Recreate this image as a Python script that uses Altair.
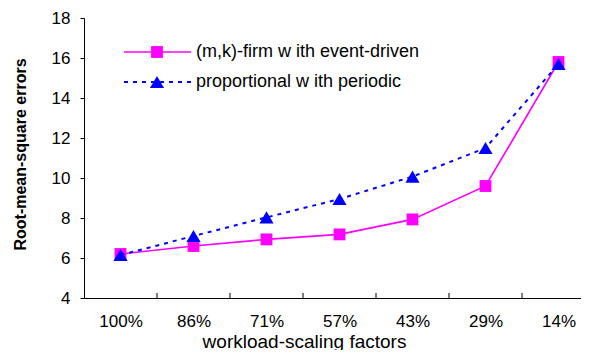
import altair as alt
import pandas as pd

categories = ["100%", "86%", "71%", "57%", "43%", "29%", "14%"]
firm_event = [6.2, 6.6, 6.93, 7.18, 7.93, 9.6, 15.8]
prop_periodic = [6.15, 7.1, 8.03, 8.95, 10.07, 11.5, 15.7]
series_names = ["(m,k)-firm w ith event-driven", "proportional w ith periodic"]
y_ticks = [4, 6, 8, 10, 12, 14, 16, 18]

FONT = "Liberation Sans"
PINK = "#FF00FF"
BLUE = "#0000FF"
SQ_SIZE = 140
TRI_SIZE = 200

df = pd.DataFrame({
    "idx": list(range(len(categories))),
    "cat": categories,
    "firm": firm_event,
    "prop": prop_periodic,
})
n = len(categories)
bounds = pd.DataFrame({
    "b": [i + 0.5 for i in range(n - 1)],
    "y0": [y_ticks[0]] * (n - 1),
    "y1": [y_ticks[0] + 0.25] * (n - 1),
})

label_expr = "[" + ",".join("'" + c + "'" for c in categories) + "][datum.value]"

x_scale = alt.Scale(domain=[-0.5, 6.308], nice=False, zero=False)
y_scale = alt.Scale(domain=[4, 18], nice=False, zero=False)

x_axis = alt.Axis(
    values=list(range(n)), labelExpr=label_expr, grid=False,
    ticks=False, domainColor="black", domainWidth=1, labelFont=FONT,
    labelFontSize=17, labelColor="black", labelPadding=15, labelOverlap=False,
    title="workload-scaling factors", titleFont=FONT, titleFontSize=19,
    titleFontWeight="normal", titleColor="black", titleX=220, titleY=49,
    titleBaseline="alphabetic", titleAlign="center",
)
y_axis = alt.Axis(
    values=y_ticks, grid=False, tickSize=4, tickColor="black",
    domainColor="black", labelFont=FONT, labelFontSize=17, labelColor="black",
    labelPadding=10, labelOverlap=False, labelBound=False,
    title="Root-mean-square errors", titleFont=FONT,
    titleFontSize=16, titleFontWeight="bold", titleColor="black",
    titleX=-64, titleY=136, titleAngle=270, titleAlign="center",
    titleBaseline="middle",
)


def X(field):
    return alt.X(field, scale=x_scale, axis=x_axis)


def Y(field):
    return alt.Y(field, scale=y_scale, axis=y_axis)


base = alt.Chart(df)

firm_line = base.mark_line(color=PINK, strokeWidth=1.6).encode(
    x=X("idx:Q"), y=Y("firm:Q"))
firm_pts = base.mark_point(shape="square", filled=True, color=PINK, size=SQ_SIZE, opacity=1).encode(
    x=X("idx:Q"), y=Y("firm:Q"))
prop_line = base.mark_line(color=BLUE, strokeWidth=2, strokeDash=[4, 5]).encode(
    x=X("idx:Q"), y=Y("prop:Q"))
prop_pts = base.mark_point(shape="triangle-up", filled=True, color=BLUE, size=TRI_SIZE, opacity=1).encode(
    x=X("idx:Q"), y=Y("prop:Q"))

ticks = alt.Chart(bounds).mark_rule(color="black", strokeWidth=1).encode(
    x=X("b:Q"), y=Y("y0:Q"), y2="y1:Q")

one = pd.DataFrame({"a": [0]})
leg = alt.Chart(one)
leg1_line = leg.mark_rule(color=PINK, strokeWidth=1.6).encode(
    x=alt.value(40), x2=alt.value(107), y=alt.value(34))
leg1_pt = leg.mark_point(shape="square", filled=True, color=PINK, size=SQ_SIZE, opacity=1).encode(
    x=alt.value(73), y=alt.value(34))
leg1_txt = leg.mark_text(text=series_names[0], font=FONT, fontSize=18, align="left",
                         baseline="middle", color="black").encode(
    x=alt.value(112), y=alt.value(34))
leg2_line = leg.mark_rule(color=BLUE, strokeWidth=2, strokeDash=[4, 5]).encode(
    x=alt.value(40), x2=alt.value(107), y=alt.value(64))
leg2_pt = leg.mark_point(shape="triangle-up", filled=True, color=BLUE, size=TRI_SIZE, opacity=1).encode(
    x=alt.value(73), y=alt.value(64))
leg2_txt = leg.mark_text(text=series_names[1], font=FONT, fontSize=18, align="left",
                         baseline="middle", color="black").encode(
    x=alt.value(112), y=alt.value(64))

chart = alt.layer(
    firm_line, firm_pts, prop_line, prop_pts, ticks,
    leg1_line, leg1_pt, leg1_txt, leg2_line, leg2_pt, leg2_txt,
).properties(
    width=497, height=280,
    autosize=alt.AutoSizeParams(type="none"),
    padding={"left": 76, "top": 10, "right": 0, "bottom": 52},
    background="white",
).configure_view(stroke=None)

chart.save("out.html", embed_options={"renderer": "svg", "actions": False})
